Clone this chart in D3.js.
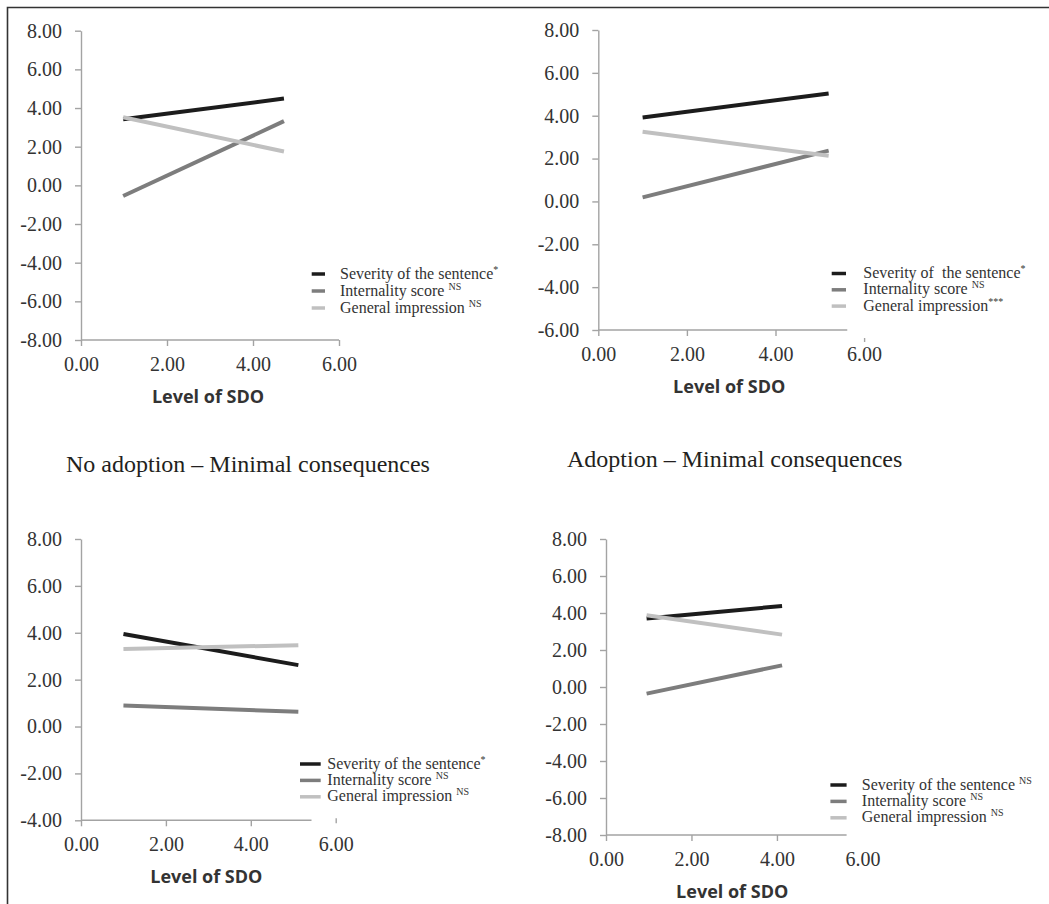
<!DOCTYPE html>
<html><head><meta charset="utf-8">
<script src="https://cdn.jsdelivr.net/npm/d3@7"></script>
<style>body{margin:0;background:#fff} svg{display:block} text{white-space:pre}</style>
</head><body>
<svg id="chart" width="1049" height="904"></svg>
<script>
// ---------------- data ----------------
const seriesKeys = ["severity", "internality", "general"];
const xTickValues = [0, 2, 4, 6];
const xAxisLabel = "Level of SDO";
const panelTitles = ["", "", "No adoption \u2013 Minimal consequences", "Adoption \u2013 Minimal consequences"];

// Panel 1 (top-left)
const p1X = [0.98, 4.72];
const p1Severity = [3.42, 4.49];
const p1Internality = [-0.55, 3.32];
const p1General = [3.52, 1.75];
const p1YTicks = [-8, -6, -4, -2, 0, 2, 4, 6, 8];
const p1Labels = ["Severity of the sentence", "Internality score ", "General impression "];
const p1Sig = ["*", "NS", "NS"];

// Panel 2 (top-right)
const p2X = [1.0, 5.2];
const p2Severity = [3.92, 5.04];
const p2Internality = [0.19, 2.37];
const p2General = [3.25, 2.13];
const p2YTicks = [-6, -4, -2, 0, 2, 4, 6, 8];
const p2Labels = ["Severity of  the sentence", "Internality score ", "General impression"];
const p2Sig = ["*", "NS", "***"];

// Panel 3 (bottom-left)
const p3X = [1.0, 5.12];
const p3Severity = [3.95, 2.62];
const p3Internality = [0.90, 0.63];
const p3General = [3.31, 3.47];
const p3YTicks = [-4, -2, 0, 2, 4, 6, 8];
const p3Labels = ["Severity of the sentence", "Internality score ", "General impression "];
const p3Sig = ["*", "NS", "NS"];

// Panel 4 (bottom-right)
const p4X = [0.95, 4.12];
const p4Severity = [3.70, 4.38];
const p4Internality = [-0.36, 1.17];
const p4General = [3.88, 2.83];
const p4YTicks = [-8, -6, -4, -2, 0, 2, 4, 6, 8];
const p4Labels = ["Severity of the sentence ", "Internality score ", "General impression "];
const p4Sig = ["NS", "NS", "NS"];

// ---------------- styles / layout ----------------
const colors = {severity: "#1c1c1c", internality: "#7d7d7d", general: "#c0c0c0"};
const serif = "'Liberation Serif', 'Times New Roman', serif";
const sans = "'Open Sans', 'DejaVu Sans', sans-serif";
const textColor = "#333";
const axisColor = "#a3a3a3";

const panels = [
  {X: p1X, vals: [p1Severity, p1Internality, p1General], yTicks: p1YTicks, labels: p1Labels, sig: p1Sig, title: panelTitles[0],
   xr: [81, 339], yr: [340, 30.7], axisEnd: 6, stub: [0, 6],
   leg: {mx0: 311.7, mx1: 325, tx: 340, y: 274, dy: 17}},
  {X: p2X, vals: [p2Severity, p2Internality, p2General], yTicks: p2YTicks, labels: p2Labels, sig: p2Sig, title: panelTitles[1],
   xr: [598.3, 864.1], yr: [330, 30], axisEnd: 5.62, stub: [8, 12],
   leg: {mx0: 831.7, mx1: 846, tx: 863.3, y: 273.5, dy: 16.3}},
  {X: p3X, vals: [p3Severity, p3Internality, p3General], yTicks: p3YTicks, labels: p3Labels, sig: p3Sig, title: panelTitles[2],
   xr: [81, 335.7], yr: [820.3, 539], axisEnd: 5.43, stub: [-2, 3], tpos: [66, 472],
   leg: {mx0: 300, mx1: 320.7, tx: 327.3, y: 764, dy: 16.4}},
  {X: p4X, vals: [p4Severity, p4Internality, p4General], yTicks: p4YTicks, labels: p4Labels, sig: p4Sig, title: panelTitles[3],
   xr: [606, 862.4], yr: [835, 539], axisEnd: 5.63, stub: null, tpos: [567, 466.7],
   leg: {mx0: 830.4, mx1: 846.6, tx: 861.8, y: 785, dy: 16.4}}
];

const svg = d3.select("#chart");

// outer frame (top and left edges only)
svg.append("path").attr("d", "M7.5,904V7.5H1049")
  .attr("fill", "none").attr("stroke", "#333").attr("stroke-width", 1.6);

panels.forEach(p => {
  const g = svg.append("g");
  const yMin = d3.min(p.yTicks), yMax = d3.max(p.yTicks);
  const x = d3.scaleLinear().domain([0, 6]).range(p.xr);
  const y = d3.scaleLinear().domain([yMin, yMax]).range(p.yr);
  const fmt = d => d.toFixed(2);

  // y axis
  const ya = g.append("g").attr("transform", `translate(${x(0)},0)`)
    .call(d3.axisLeft(y).tickValues(p.yTicks).tickSize(6).tickSizeOuter(0).tickPadding(13).tickFormat(fmt));
  ya.select(".domain").attr("stroke", axisColor).attr("stroke-width", 1.4);
  ya.selectAll(".tick line").attr("stroke", axisColor).attr("stroke-width", 1.4);
  ya.selectAll(".tick text").attr("font-family", serif).attr("font-size", 20).attr("fill", textColor);

  // x axis
  const xa = g.append("g").attr("transform", `translate(0,${y(yMin)})`)
    .call(d3.axisBottom(x).tickValues(xTickValues).tickSize(6).tickPadding(11).tickFormat(fmt));
  xa.select(".domain").remove();
  xa.append("line").attr("x1", x(0)).attr("x2", x(p.axisEnd)).attr("y1", 0).attr("y2", 0)
    .attr("stroke", axisColor).attr("stroke-width", 1.4);
  xa.selectAll(".tick line").attr("stroke", axisColor).attr("stroke-width", 1.4)
    .each(function(d) {
      if (d === 6) {
        if (p.stub) d3.select(this).attr("y1", p.stub[0]).attr("y2", p.stub[1]);
        else d3.select(this).remove();
      }
    });
  xa.selectAll(".tick text").attr("font-family", serif).attr("font-size", 20).attr("fill", textColor);

  // axis title
  g.append("text").attr("x", x(3) - 2).attr("y", y(yMin) + 62.5)
    .attr("text-anchor", "middle").attr("font-family", sans).attr("font-weight", 700)
    .attr("font-size", 18).attr("fill", textColor).text(xAxisLabel);

  // panel title
  if (p.title) {
    g.append("text").attr("x", p.tpos[0]).attr("y", p.tpos[1])
      .attr("font-family", serif).attr("font-size", 24).attr("fill", "#231f20").text(p.title);
  }

  // series lines
  const line = d3.line().x(d => x(d[0])).y(d => y(d[1]));
  seriesKeys.forEach((k, i) => {
    const pts = p.X.map((xv, j) => [xv, p.vals[i][j]]);
    g.append("path").datum(pts).attr("d", line)
      .attr("fill", "none").attr("stroke", colors[k]).attr("stroke-width", 4)
      .attr("stroke-linecap", "butt");
  });

  // legend
  const lg = g.append("g");
  seriesKeys.forEach((k, i) => {
    const yy = p.leg.y + i * p.leg.dy;
    lg.append("line").attr("x1", p.leg.mx0).attr("x2", p.leg.mx1).attr("y1", yy).attr("y2", yy)
      .attr("stroke", colors[k]).attr("stroke-width", 3.5);
    const t = lg.append("text").attr("x", p.leg.tx).attr("y", yy + 4.5)
      .attr("font-family", serif).attr("font-size", 16).attr("fill", textColor);
    t.append("tspan").text(p.labels[i]);
    t.append("tspan").attr("font-size", 10).attr("dy", -6).text(p.sig[i]);
  });
});
</script>
</body></html>
